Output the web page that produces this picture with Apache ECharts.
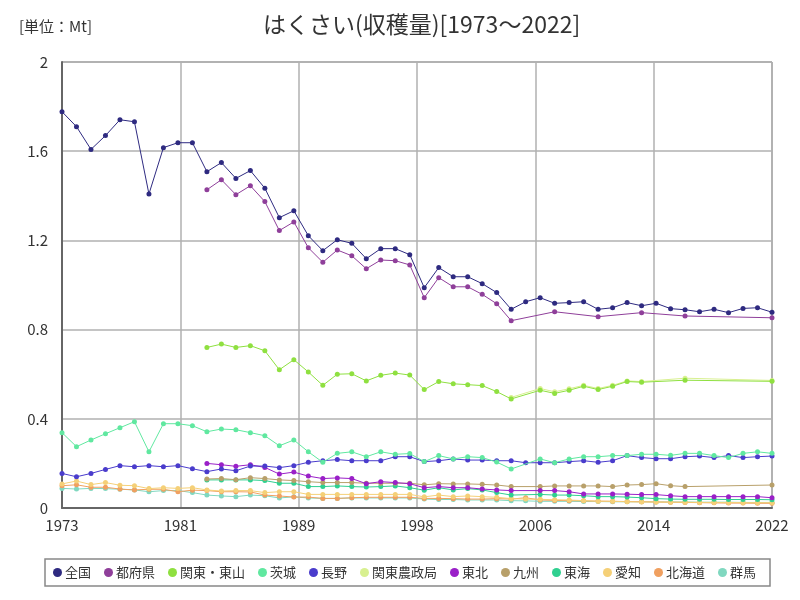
<!DOCTYPE html>
<html><head><meta charset="utf-8">
<script src="https://cdn.jsdelivr.net/npm/echarts@6/dist/echarts.min.js"></script>
<style>html,body{margin:0;padding:0;background:#fff}#c{width:800px;height:600px}</style>
</head><body><div id="c"></div>
<script>
const seriesNames = ['全国','都府県','関東・東山','茨城','長野','関東農政局','東北','九州','東海','愛知','北海道','群馬'];
const colors = ['#2e2a80','#8f3f9a','#8fe040','#60e8a0','#4a3ccc','#d8f090','#9a20c8','#b8a06a','#30d090','#f5d078','#f0a060','#80d8c0'];
const xTickYears = [1973,1981,1989,1998,2006,2014,2022];

const yearsAll = [1973,1974,1975,1976,1977,1978,1979,1980,1981,1982,1983,1984,1985,1986,1987,1988,1989,1990,1991,1992,1993,1994,1995,1996,1997,1998,1999,2000,2001,2002,2003,2004,2005,2006,2007,2008,2009,2010,2011,2012,2013,2014,2015,2016,2017,2018,2019,2020,2021,2022];
const zenkoku = [1.777,1.710,1.608,1.670,1.741,1.732,1.408,1.616,1.638,1.638,1.508,1.549,1.478,1.513,1.434,1.302,1.333,1.221,1.154,1.203,1.187,1.118,1.163,1.163,1.136,0.988,1.078,1.037,1.037,1.006,0.966,0.891,0.925,0.943,0.918,0.921,0.925,0.891,0.898,0.921,0.907,0.918,0.894,0.889,0.880,0.891,0.876,0.895,0.898,0.878];
const nagano = [0.155,0.140,0.155,0.173,0.190,0.185,0.190,0.185,0.190,0.176,0.163,0.175,0.167,0.188,0.188,0.181,0.190,0.205,0.212,0.217,0.212,0.212,0.212,0.230,0.230,0.208,0.212,0.220,0.215,0.215,0.212,0.212,0.203,0.203,0.203,0.208,0.212,0.205,0.212,0.235,0.226,0.221,0.221,0.230,0.233,0.226,0.235,0.226,0.230,0.233];

const ibarakiYears = [1973,1974,1975,1976,1977,1978,1979,1980,1981,1982,1983,1984,1985,1986,1987,1988,1989,1990,1991,1992,1993,1994,1995,1996,1997,1998,1999,2000,2001,2002,2003,2004,2006,2007,2008,2009,2010,2011,2012,2013,2014,2015,2016,2017,2018,2019,2020,2021,2022];
const ibaraki = [0.338,0.275,0.305,0.333,0.360,0.387,0.252,0.378,0.378,0.369,0.342,0.354,0.351,0.338,0.324,0.279,0.305,0.252,0.205,0.245,0.252,0.230,0.252,0.241,0.244,0.208,0.235,0.220,0.230,0.226,0.206,0.175,0.220,0.203,0.220,0.230,0.230,0.235,0.235,0.241,0.241,0.236,0.245,0.245,0.235,0.226,0.245,0.252,0.245];

const fukenYears = [1983,1984,1985,1986,1987,1988,1989,1990,1991,1992,1993,1994,1995,1996,1997,1998,1999,2000,2001,2002,2003,2004,2007,2010,2013,2016,2022];
const fuken = [1.427,1.472,1.405,1.445,1.374,1.244,1.283,1.167,1.102,1.157,1.131,1.073,1.112,1.109,1.090,0.943,1.033,0.992,0.992,0.958,0.916,0.840,0.880,0.858,0.876,0.861,0.853];

const kantoYears = [1983,1984,1985,1986,1987,1988,1989,1990,1991,1992,1993,1994,1995,1996,1997,1998,1999,2000,2001,2002,2003,2004,2006,2007,2008,2009,2010,2011,2012,2013,2016,2022];
const kanto = [0.720,0.735,0.720,0.728,0.705,0.620,0.665,0.610,0.550,0.600,0.602,0.570,0.595,0.605,0.596,0.531,0.567,0.557,0.553,0.549,0.522,0.489,0.528,0.514,0.528,0.546,0.531,0.546,0.567,0.564,0.573,0.568];
const kantoNoseiYears = [2004,2006,2007,2008,2009,2010,2011,2012,2013,2016,2022];
const kantoNosei = [0.496,0.536,0.521,0.535,0.550,0.536,0.550,0.570,0.567,0.582,0.572];

const regYears = [1983,1984,1985,1986,1987,1988,1989,1990,1991,1992,1993,1994,1995,1996,1997,1998,1999,2000,2001,2002,2003,2004,2006,2007,2008,2009,2010,2011,2012,2013,2014,2015,2016,2017,2018,2019,2020,2021,2022];
const tohoku = [0.200,0.194,0.187,0.194,0.182,0.152,0.161,0.143,0.132,0.135,0.132,0.109,0.118,0.114,0.109,0.091,0.096,0.091,0.091,0.085,0.081,0.078,0.078,0.078,0.073,0.063,0.063,0.063,0.062,0.060,0.060,0.055,0.051,0.051,0.051,0.051,0.051,0.051,0.046];
const tokai = [0.126,0.126,0.126,0.126,0.123,0.111,0.111,0.096,0.096,0.099,0.096,0.094,0.096,0.099,0.091,0.080,0.091,0.081,0.087,0.081,0.069,0.058,0.061,0.058,0.058,0.055,0.051,0.051,0.049,0.046,0.042,0.040,0.039,0.039,0.039,0.038,0.038,0.038,0.037];
const kyushuYears = [1983,1984,1985,1986,1987,1988,1989,1990,1991,1992,1993,1994,1995,1996,1997,1998,1999,2000,2001,2002,2003,2004,2006,2007,2008,2009,2010,2011,2012,2013,2014,2015,2016,2022];
const kyushu = [0.130,0.132,0.127,0.136,0.132,0.126,0.123,0.118,0.114,0.114,0.114,0.111,0.111,0.111,0.111,0.104,0.109,0.108,0.108,0.106,0.103,0.096,0.096,0.099,0.099,0.099,0.099,0.096,0.103,0.105,0.109,0.100,0.096,0.103];

const smallYears = [1973,1974,1975,1976,1977,1978,1979,1980,1981,1982,1983,1984,1985,1986,1987,1988,1989,1990,1991,1992,1993,1994,1995,1996,1997,1998,1999,2000,2001,2002,2003,2004,2005,2006,2007,2008,2009,2010,2011,2012,2013,2014,2015,2016,2017,2018,2019,2020,2021,2022];
const aichi = [0.108,0.121,0.105,0.114,0.102,0.100,0.087,0.091,0.088,0.091,0.081,0.076,0.078,0.078,0.069,0.073,0.073,0.061,0.061,0.061,0.061,0.061,0.061,0.061,0.061,0.050,0.058,0.051,0.054,0.051,0.048,0.042,0.040,0.039,0.037,0.036,0.033,0.030,0.030,0.028,0.027,0.027,0.026,0.026,0.025,0.025,0.025,0.024,0.024,0.024];
const hokkaido = [0.100,0.104,0.093,0.093,0.085,0.081,0.084,0.084,0.073,0.080,0.078,0.073,0.073,0.072,0.058,0.054,0.049,0.049,0.043,0.043,0.046,0.048,0.048,0.048,0.048,0.043,0.043,0.042,0.040,0.040,0.042,0.040,0.046,0.036,0.034,0.033,0.032,0.031,0.030,0.029,0.028,0.027,0.026,0.025,0.024,0.023,0.022,0.022,0.021,0.021];
const gunma = [0.088,0.085,0.088,0.087,0.084,0.081,0.073,0.078,0.078,0.069,0.058,0.054,0.051,0.058,0.055,0.045,0.050,0.045,0.043,0.043,0.045,0.045,0.045,0.045,0.045,0.040,0.038,0.038,0.036,0.036,0.036,0.033,0.032,0.030,0.030,0.030,0.029,0.029,0.028,0.028,0.028,0.027,0.027,0.027,0.026,0.026,0.026,0.025,0.025,0.025];

const seriesYears = [yearsAll, fukenYears, kantoYears, ibarakiYears, yearsAll, kantoNoseiYears, regYears, kyushuYears, regYears, smallYears, smallYears, smallYears];
const seriesValues = [zenkoku, fuken, kanto, ibaraki, nagano, kantoNosei, tohoku, kyushu, tokai, aichi, hokkaido, gunma];

const X0 = 1973, SCALE = 6; // x axis is (year - 1973) * 6 so the 6 equal tick intervals are integers
const toX = y => (y - X0) * SCALE;

const chart = echarts.init(document.getElementById('c'), null, {renderer:'canvas'});
const series = seriesNames.map((name, i) => ({
  name, type:'line',
  data: seriesYears[i].map((yr, k) => [toX(yr), seriesValues[i][k]]),
  symbol:'circle', symbolSize:5,
  lineStyle:{width:1, color:colors[i]},
  itemStyle:{color:colors[i]},
  z: 20 - i
}));
series.reverse();

chart.setOption({
  animation:false,
  color: colors,
  title:[
    {text:'はくさい(収穫量)[1973～2022]', left:258, top:8, textStyle:{fontFamily:'Noto Sans CJK JP', fontSize:23, fontWeight:'normal', color:'#333'}},
    {text:'[単位：Mt]', left:14, top:14, textStyle:{fontFamily:'Noto Sans CJK JP', fontSize:15, fontWeight:'normal', color:'#333'}}
  ],
  legend:{
    data: seriesNames,
    left:45, top:559, width:745,
    orient:'horizontal',
    icon:'circle', itemWidth:9, itemHeight:9, itemGap:13,
    borderColor:'#888', borderWidth:1.5, padding:[7,14,7,8],
    textStyle:{fontFamily:'Noto Sans CJK JP', fontSize:13, color:'#333', padding:[0,0,0,-2]}
  },
  grid:{left:62, right:28, top:62, bottom:92, show:true, borderColor:'#777', borderWidth:1},
  xAxis:{
    type:'value', min:0, max:toX(2022), interval:(2022-1973),
    axisLine:{show:true, lineStyle:{color:'#666', width:2}},
    axisTick:{show:false},
    splitLine:{show:true, lineStyle:{color:'#b0b0b0', width:1.5}},
    axisLabel:{formatter: v => String(Math.round(X0 + v / SCALE)), fontFamily:'Noto Sans CJK JP', fontSize:15, color:'#333', margin:10}
  },
  yAxis:{
    type:'value', min:0, max:2, interval:0.4,
    axisLine:{show:true, lineStyle:{color:'#666', width:2}},
    axisTick:{show:false},
    splitLine:{show:true, lineStyle:{color:'#b0b0b0', width:1.5}},
    axisLabel:{fontFamily:'Noto Sans CJK JP', fontSize:15, color:'#333', margin:14}
  },
  series
});
</script></body></html>
